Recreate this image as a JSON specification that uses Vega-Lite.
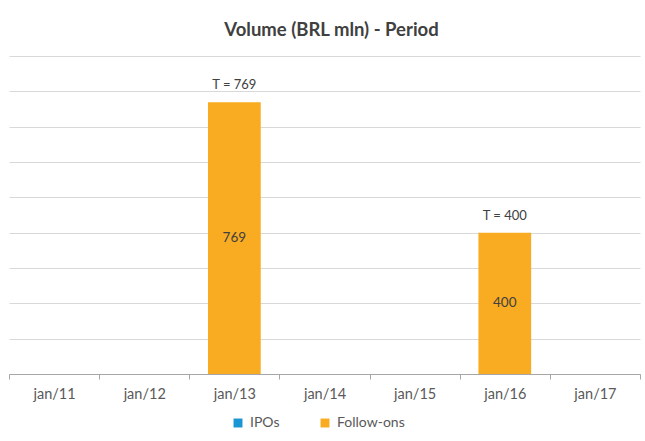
{
  "$schema": "https://vega.github.io/schema/vega-lite/v6.json",
  "width": 631,
  "height": 318,
  "autosize": {"type": "pad"},
  "padding": {"left": 8, "top": 20, "right": 6, "bottom": 0},
  "background": "white",
  "title": {
    "text": "Volume (BRL mln) - Period",
    "font": "Lato",
    "fontSize": 18.5,
    "fontWeight": "bold",
    "color": "#404040",
    "anchor": "middle",
    "offset": 17,
    "dx": 7
  },
  "data": {
    "values": [
      {"period": "jan/11", "type": "IPOs", "value": 0},
      {"period": "jan/11", "type": "Follow-ons", "value": 0},
      {"period": "jan/12", "type": "IPOs", "value": 0},
      {"period": "jan/12", "type": "Follow-ons", "value": 0},
      {"period": "jan/13", "type": "IPOs", "value": 0},
      {"period": "jan/13", "type": "Follow-ons", "value": 769},
      {"period": "jan/14", "type": "IPOs", "value": 0},
      {"period": "jan/14", "type": "Follow-ons", "value": 0},
      {"period": "jan/15", "type": "IPOs", "value": 0},
      {"period": "jan/15", "type": "Follow-ons", "value": 0},
      {"period": "jan/16", "type": "IPOs", "value": 0},
      {"period": "jan/16", "type": "Follow-ons", "value": 400},
      {"period": "jan/17", "type": "IPOs", "value": 0},
      {"period": "jan/17", "type": "Follow-ons", "value": 0}
    ]
  },
  "encoding": {
    "x": {
      "field": "period",
      "type": "nominal",
      "sort": null,
      "scale": {"paddingInner": 0, "paddingOuter": 0},
      "axis": {
        "title": null,
        "labelAngle": 0,
        "labelFont": "Lato",
        "labelFontSize": 14.5,
        "labelColor": "#595959",
        "labelPadding": 8,
        "domainColor": "#a6a6a6",
        "tickColor": "#a6a6a6",
        "tickSize": 5,
        "tickBand": "extent",
        "grid": false
      }
    }
  },
  "layer": [
    {
      "mark": {"type": "bar", "width": {"band": 0.585}},
      "encoding": {
        "y": {
          "field": "value",
          "type": "quantitative",
          "aggregate": "sum",
          "stack": "zero",
          "scale": {"domain": [0, 900], "nice": false},
          "axis": {
            "title": null,
            "labels": false,
            "ticks": false,
            "domain": false,
            "grid": true,
            "gridColor": "#d9d9d9",
            "gridWidth": 1,
            "values": [0, 100, 200, 300, 400, 500, 600, 700, 800, 900],
            "minExtent": 0,
            "maxExtent": 0
          }
        },
        "color": {
          "field": "type",
          "type": "nominal",
          "scale": {"domain": ["IPOs", "Follow-ons"], "range": ["#1a96d4", "#f9ac21"]},
          "legend": {
            "title": null,
            "orient": "none",
            "legendX": 222,
            "legendY": 360,
            "direction": "horizontal",
            "symbolType": "square",
            "symbolSize": 80,
            "symbolStrokeWidth": 0,
            "labelFont": "Lato",
            "labelFontSize": 14,
            "labelColor": "#595959",
            "labelOffset": 5,
            "columnPadding": 38
          }
        },
        "order": {"field": "type", "sort": "descending"}
      }
    },
    {
      "transform": [{"filter": "datum.value > 0"}],
      "mark": {"type": "text", "font": "Lato", "fontSize": 13.5, "color": "#404040", "baseline": "middle"},
      "encoding": {
        "y": {
          "field": "value",
          "type": "quantitative",
          "scale": {"domain": [0, 1800], "nice": false},
          "axis": null
        },
        "text": {"field": "value", "type": "quantitative"}
      }
    },
    {
      "transform": [
        {"aggregate": [{"op": "sum", "field": "value", "as": "total"}], "groupby": ["period"]},
        {"filter": "datum.total > 0"}
      ],
      "mark": {
        "type": "text",
        "font": "Lato",
        "fontSize": 13,
        "color": "#404040",
        "baseline": "middle",
        "dy": -17,
        "text": {"expr": "'T = ' + datum.total"}
      },
      "encoding": {
        "y": {
          "field": "total",
          "type": "quantitative",
          "scale": {"domain": [0, 900], "nice": false},
          "axis": null
        }
      }
    }
  ],
  "resolve": {"scale": {"y": "independent"}},
  "config": {
    "view": {"stroke": null}
  }
}
